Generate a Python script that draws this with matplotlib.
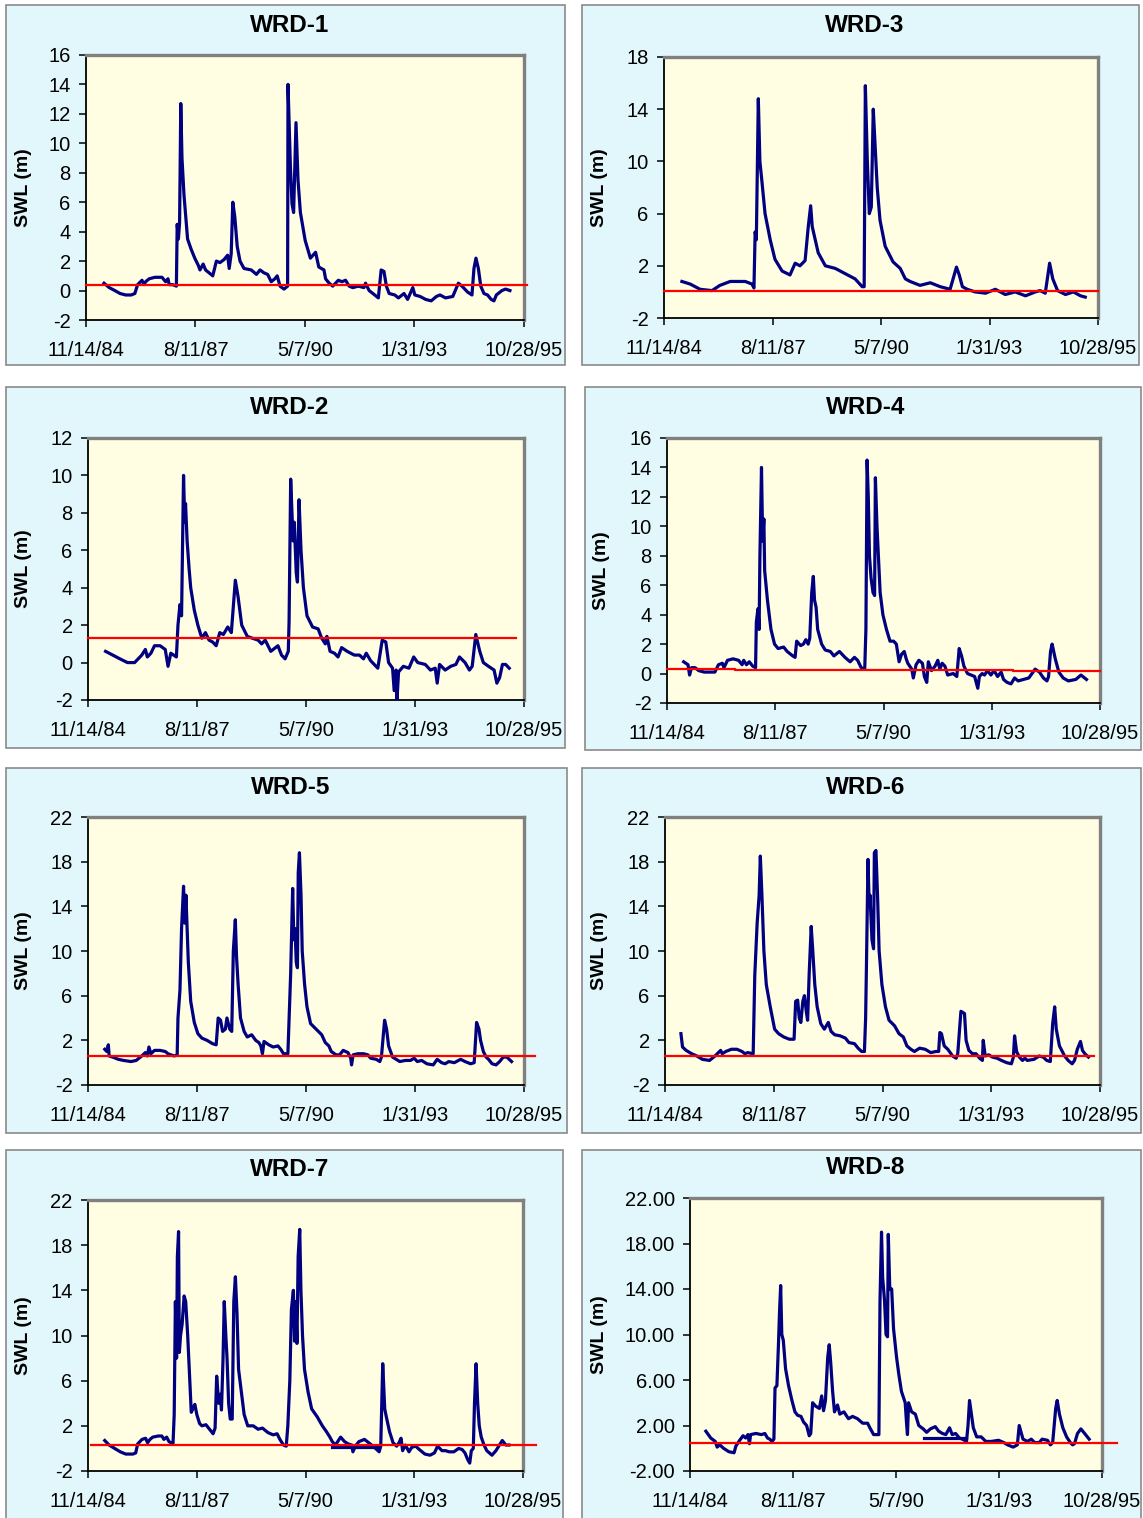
import matplotlib
matplotlib.use("Agg")
from datetime import datetime
from matplotlib import pyplot as plt
from matplotlib.patches import Rectangle
from matplotlib.ticker import FormatStrFormatter

plt.rcParams['font.family'] = ['Liberation Sans', 'DejaVu Sans']

TICK_LABELS = ['11/14/84', '8/11/87', '5/7/90', '1/31/93', '10/28/95']

# time in decimal years, SWL in m
WRD1_T = [1985.32, 1985.45, 1985.59, 1985.72, 1985.86, 1986.00, 1986.09, 1986.16, 1986.27, 1986.32,
          1986.36, 1986.45, 1986.59, 1986.77, 1986.86, 1986.92, 1986.95, 1987.04, 1987.13, 1987.15,
          1987.18, 1987.21, 1987.24, 1987.27, 1987.32, 1987.41, 1987.50, 1987.59, 1987.68, 1987.72,
          1987.80, 1987.86, 1987.95, 1988.04, 1988.13, 1988.22, 1988.32, 1988.41, 1988.45, 1988.50,
          1988.54, 1988.59, 1988.65, 1988.72, 1988.82, 1989.00, 1989.13, 1989.22, 1989.32, 1989.41,
          1989.50, 1989.59, 1989.65, 1989.72, 1989.82, 1989.91, 1989.92, 1989.98, 1990.02, 1990.06,
          1990.12, 1990.17, 1990.23, 1990.35, 1990.48, 1990.61, 1990.69, 1990.82, 1990.86, 1990.95,
          1991.04, 1991.18, 1991.27, 1991.36, 1991.45, 1991.54, 1991.68, 1991.82, 1991.86, 1991.95,
          1992.09, 1992.18, 1992.25, 1992.32, 1992.38, 1992.45, 1992.59, 1992.68, 1992.82, 1992.91,
          1993.04, 1993.09, 1993.22, 1993.36, 1993.50, 1993.63, 1993.72, 1993.86, 1994.04, 1994.18,
          1994.27, 1994.41, 1994.52, 1994.57, 1994.62, 1994.68, 1994.74, 1994.82, 1994.91, 1995.00,
          1995.07, 1995.13, 1995.27, 1995.36, 1995.47]
WRD1_SWL = [0.5, 0.2, 0.0, -0.2, -0.3, -0.3, -0.2, 0.4, 0.7, 0.4,
            0.6, 0.8, 0.9, 0.9, 0.6, 0.8, 0.4, 0.4, 0.3, 4.5,
            3.5, 4.6, 12.7, 9.0, 6.5, 3.5, 2.8, 2.2, 1.7, 1.4,
            1.8, 1.4, 1.2, 1.0, 2.0, 1.9, 2.1, 2.4, 1.5, 2.5,
            6.0, 5.0, 3.0, 2.0, 1.5, 1.4, 1.1, 1.4, 1.2, 1.1,
            0.6, 0.8, 1.0, 0.3, 0.1, 0.3, 14.0, 8.4, 5.9, 5.3,
            11.4, 7.5, 5.3, 3.4, 2.2, 2.6, 1.6, 1.4, 0.8, 0.5,
            0.3, 0.7, 0.6, 0.7, 0.3, 0.2, 0.3, 0.2, 0.5, 0.0,
            -0.3, -0.5, 1.4, 1.3, 0.3, -0.2, -0.3, -0.5, -0.2, -0.6,
            0.2, -0.3, -0.4, -0.6, -0.7, -0.4, -0.3, -0.5, -0.4, 0.5,
            0.3, -0.1, -0.3, 1.5, 2.2, 1.5, 0.3, -0.2, -0.3, -0.6,
            -0.7, -0.3, 0.0, 0.1, 0.0]
WRD1_REF_T = [1984.87, 1995.89]
WRD1_REF_SWL = [0.4, 0.4]

WRD3_T = [1985.32, 1985.53, 1985.78, 1986.08, 1986.28, 1986.54, 1986.92, 1987.09, 1987.14, 1987.17,
          1987.20, 1987.25, 1987.29, 1987.34, 1987.42, 1987.55, 1987.67, 1987.85, 1988.05, 1988.18,
          1988.30, 1988.43, 1988.51, 1988.57, 1988.61, 1988.76, 1988.94, 1989.19, 1989.44, 1989.69,
          1989.87, 1989.92, 1989.95, 1990.00, 1990.05, 1990.10, 1990.15, 1990.20, 1990.25, 1990.32,
          1990.45, 1990.65, 1990.83, 1990.96, 1991.08, 1991.33, 1991.59, 1991.84, 1992.09, 1992.25,
          1992.32, 1992.40, 1992.52, 1992.72, 1992.98, 1993.23, 1993.48, 1993.73, 1993.99, 1994.24,
          1994.36, 1994.49, 1994.60, 1994.68, 1994.80, 1995.00, 1995.20, 1995.38, 1995.50]
WRD3_SWL = [0.8, 0.6, 0.2, 0.1, 0.5, 0.8, 0.8, 0.6, 0.3, 4.6,
            4.0, 14.8, 10.0, 8.5, 6.0, 4.0, 2.5, 1.6, 1.3, 2.2,
            2.0, 2.4, 5.0, 6.6, 5.0, 3.0, 2.0, 1.8, 1.4, 1.0,
            0.4, 0.4, 15.8, 10.0, 6.0, 6.5, 14.0, 11.0, 8.0, 5.5,
            3.5, 2.3, 1.8, 1.0, 0.8, 0.5, 0.7, 0.4, 0.2, 1.9,
            1.3, 0.4, 0.2, 0.0, -0.1, 0.2, -0.2, 0.0, -0.3, 0.0,
            0.1, -0.1, 2.2, 1.0, 0.1, -0.2, 0.0, -0.3, -0.4]
WRD3_REF_T = [1984.87, 1995.82]
WRD3_REF_SWL = [0.1, 0.1]

WRD2_T = [1985.31, 1985.49, 1985.67, 1985.86, 1986.04, 1986.22, 1986.31, 1986.36, 1986.45, 1986.54,
          1986.68, 1986.81, 1986.88, 1986.95, 1987.09, 1987.13, 1987.18, 1987.22, 1987.27, 1987.30,
          1987.32, 1987.36, 1987.41, 1987.45, 1987.54, 1987.63, 1987.73, 1987.82, 1987.91, 1988.00,
          1988.09, 1988.18, 1988.27, 1988.38, 1988.47, 1988.57, 1988.64, 1988.73, 1988.87, 1989.00,
          1989.14, 1989.23, 1989.32, 1989.46, 1989.64, 1989.73, 1989.82, 1989.90, 1989.92, 1989.96,
          1990.02, 1990.05, 1990.10, 1990.13, 1990.17, 1990.22, 1990.28, 1990.37, 1990.51, 1990.65,
          1990.74, 1990.83, 1990.87, 1990.95, 1991.06, 1991.15, 1991.24, 1991.38, 1991.47, 1991.56,
          1991.69, 1991.79, 1991.86, 1991.97, 1992.15, 1992.26, 1992.35, 1992.42, 1992.52, 1992.56,
          1992.61, 1992.63, 1992.67, 1992.79, 1992.93, 1993.05, 1993.15, 1993.34, 1993.47, 1993.59,
          1993.64, 1993.70, 1993.84, 1993.98, 1994.11, 1994.20, 1994.34, 1994.45, 1994.52, 1994.61,
          1994.71, 1994.80, 1994.93, 1995.07, 1995.14, 1995.21, 1995.28, 1995.36, 1995.45]
WRD2_SWL = [0.6, 0.4, 0.2, 0.0, 0.0, 0.4, 0.7, 0.3, 0.5, 0.9,
            0.9, 0.7, -0.2, 0.5, 0.3, 2.0, 3.1, 2.5, 10.0, 7.5,
            8.5, 6.5, 5.0, 4.0, 2.8, 2.0, 1.3, 1.6, 1.2, 1.1,
            0.9, 1.6, 1.5, 1.9, 1.6, 4.4, 3.5, 2.0, 1.4, 1.3,
            1.2, 1.0, 1.2, 0.6, 0.9, 0.4, 0.2, 0.6, 2.2, 9.8,
            6.5, 7.5, 4.8, 4.3, 8.7, 6.0, 4.0, 2.5, 1.9, 1.8,
            1.3, 1.0, 1.4, 0.6, 0.5, 0.3, 0.8, 0.6, 0.5, 0.4,
            0.4, 0.2, 0.5, 0.1, -0.3, 1.2, 1.1, 0.0, -0.3, -1.5,
            -0.4, -2.0, -0.5, -0.2, -0.3, 0.3, 0.0, -0.1, -0.4, -0.3,
            -1.1, -0.1, -0.4, -0.2, -0.1, 0.3, 0.0, -0.4, -0.2, 1.5,
            0.6, 0.0, -0.2, -0.4, -1.1, -0.8, -0.1, -0.1, -0.3]
WRD2_REF_T = [1984.87, 1995.62]
WRD2_REF_SWL = [1.3, 1.3]

WRD4_T = [1985.29, 1985.40, 1985.44, 1985.49, 1985.58, 1985.67, 1985.81, 1986.08, 1986.17, 1986.27,
          1986.31, 1986.40, 1986.54, 1986.68, 1986.77, 1986.81, 1986.88, 1986.95, 1987.04, 1987.11,
          1987.13, 1987.17, 1987.20, 1987.22, 1987.26, 1987.29, 1987.32, 1987.34, 1987.41, 1987.50,
          1987.59, 1987.68, 1987.82, 1987.91, 1988.05, 1988.11, 1988.15, 1988.25, 1988.32, 1988.38,
          1988.44, 1988.48, 1988.53, 1988.57, 1988.60, 1988.64, 1988.68, 1988.78, 1988.87, 1989.00,
          1989.09, 1989.23, 1989.37, 1989.50, 1989.61, 1989.69, 1989.78, 1989.87, 1989.90, 1989.93,
          1989.96, 1989.99, 1990.03, 1990.08, 1990.12, 1990.14, 1990.18, 1990.22, 1990.26, 1990.33,
          1990.42, 1990.51, 1990.60, 1990.67, 1990.74, 1990.80, 1990.87, 1990.92, 1990.96, 1991.06,
          1991.10, 1991.17, 1991.24, 1991.33, 1991.38, 1991.44, 1991.48, 1991.56, 1991.65, 1991.72,
          1991.77, 1991.83, 1991.90, 1991.97, 1992.11, 1992.20, 1992.26, 1992.32, 1992.38, 1992.47,
          1992.56, 1992.65, 1992.73, 1992.77, 1992.84, 1992.90, 1992.97, 1993.06, 1993.14, 1993.23,
          1993.32, 1993.38, 1993.47, 1993.57, 1993.66, 1993.75, 1993.88, 1994.02, 1994.18, 1994.29,
          1994.39, 1994.48, 1994.52, 1994.57, 1994.61, 1994.69, 1994.78, 1994.89, 1995.02, 1995.21,
          1995.34, 1995.48]
WRD4_SWL = [0.8, 0.6, -0.1, 0.4, 0.4, 0.2, 0.1, 0.1, 0.6, 0.7,
            0.4, 0.9, 1.0, 0.9, 0.6, 0.9, 0.6, 0.8, 0.5, 0.4,
            3.5, 4.4, 3.0, 8.0, 14.0, 9.0, 10.5, 7.0, 5.0, 3.0,
            2.0, 1.7, 1.8, 1.5, 1.2, 1.1, 2.2, 1.9, 2.0, 2.3,
            2.0, 2.4, 5.5, 6.6, 5.0, 4.5, 3.0, 2.0, 1.6, 1.5,
            1.2, 1.5, 1.1, 0.8, 1.1, 0.9, 0.4, 0.3, 3.0, 14.5,
            12.0, 8.0, 6.5, 5.5, 5.3, 13.3, 10.0, 7.8, 5.5, 4.0,
            3.0, 2.2, 2.2, 2.0, 0.8, 1.3, 1.5, 1.0, 0.7, 0.3,
            -0.3, 0.6, 0.9, 0.7, -0.2, -0.6, 0.8, 0.2, 0.5, 0.9,
            0.3, 0.7, 0.5, -0.1, 0.0, -0.2, 1.7, 1.2, 0.5, 0.0,
            -0.1, -0.2, -1.0, -0.2, 0.0, -0.1, 0.2, -0.1, 0.2, -0.2,
            0.1, -0.4, -0.6, -0.7, -0.3, -0.5, -0.4, -0.3, 0.3, 0.1,
            -0.3, -0.5, -0.2, 1.5, 2.0, 1.0, 0.1, -0.3, -0.5, -0.4,
            -0.1, -0.4]
WRD4_REF_T = [1984.87, 1986.60, 1986.60, 1993.61, 1993.61, 1995.82]
WRD4_REF_SWL = [0.3, 0.3, 0.22, 0.22, 0.15, 0.15]

WRD5_T = [1985.29, 1985.34, 1985.38, 1985.40, 1985.49, 1985.63, 1985.76, 1985.95, 1986.08, 1986.22,
          1986.31, 1986.36, 1986.40, 1986.45, 1986.54, 1986.68, 1986.81, 1986.88, 1986.95, 1987.04,
          1987.11, 1987.13, 1987.18, 1987.22, 1987.27, 1987.30, 1987.33, 1987.39, 1987.45, 1987.54,
          1987.63, 1987.73, 1987.86, 1988.00, 1988.09, 1988.14, 1988.20, 1988.25, 1988.32, 1988.36,
          1988.43, 1988.48, 1988.52, 1988.57, 1988.60, 1988.64, 1988.70, 1988.79, 1988.87, 1988.98,
          1989.08, 1989.16, 1989.21, 1989.25, 1989.29, 1989.41, 1989.52, 1989.64, 1989.71, 1989.78,
          1989.89, 1989.92, 1989.96, 1990.01, 1990.04, 1990.07, 1990.10, 1990.13, 1990.15, 1990.18,
          1990.22, 1990.25, 1990.31, 1990.37, 1990.46, 1990.60, 1990.74, 1990.83, 1990.92, 1990.98,
          1991.10, 1991.19, 1991.28, 1991.40, 1991.47, 1991.49, 1991.53, 1991.65, 1991.79, 1991.90,
          1991.97, 1992.11, 1992.20, 1992.24, 1992.32, 1992.37, 1992.42, 1992.52, 1992.61, 1992.70,
          1992.84, 1992.97, 1993.06, 1993.14, 1993.25, 1993.38, 1993.54, 1993.64, 1993.75, 1993.84,
          1993.93, 1994.07, 1994.23, 1994.34, 1994.48, 1994.57, 1994.63, 1994.69, 1994.73, 1994.80,
          1994.87, 1994.93, 1995.02, 1995.12, 1995.21, 1995.30, 1995.39, 1995.51]
WRD5_SWL = [1.2, 1.0, 1.6, 0.6, 0.5, 0.3, 0.2, 0.1, 0.2, 0.6,
            0.9, 0.6, 1.4, 0.8, 1.1, 1.1, 1.0, 0.8, 0.7, 0.6,
            0.7, 4.0, 6.5, 12.0, 15.8, 12.5, 15.0, 9.0, 5.5, 3.6,
            2.6, 2.2, 2.0, 1.7, 1.6, 4.0, 3.8, 2.8, 3.0, 4.0,
            3.0, 2.8, 10.0, 12.8, 9.5, 7.0, 4.0, 2.8, 2.3, 2.5,
            2.0, 1.8, 1.5, 0.8, 1.9, 1.6, 1.4, 1.5, 1.2, 0.8,
            0.8, 4.0, 8.0, 15.6, 11.0, 12.0, 9.0, 8.5, 17.0, 18.8,
            15.0, 10.0, 7.0, 5.0, 3.5, 3.0, 2.5, 1.8, 1.5, 1.0,
            0.7, 0.7, 1.1, 0.9, 0.4, -0.2, 0.7, 0.8, 0.8, 0.7,
            0.4, 0.3, 0.1, 0.5, 3.8, 3.0, 1.5, 0.5, 0.3, 0.1,
            0.2, 0.2, 0.4, 0.1, 0.2, -0.1, -0.2, 0.3, 0.0, -0.1,
            0.1, 0.0, 0.3, 0.1, -0.1, 0.0, 3.6, 3.0, 2.0, 1.0,
            0.5, 0.3, -0.1, -0.2, 0.1, 0.5, 0.5, 0.1]
WRD5_REF_T = [1984.87, 1996.09]
WRD5_REF_SWL = [0.6, 0.6]

WRD6_T = [1985.27, 1985.31, 1985.40, 1985.54, 1985.67, 1985.81, 1985.99, 1986.13, 1986.27, 1986.31,
          1986.40, 1986.54, 1986.68, 1986.81, 1986.88, 1986.95, 1987.09, 1987.13, 1987.19, 1987.24,
          1987.27, 1987.31, 1987.36, 1987.42, 1987.52, 1987.63, 1987.73, 1987.86, 1988.00, 1988.12,
          1988.16, 1988.21, 1988.25, 1988.29, 1988.34, 1988.38, 1988.43, 1988.46, 1988.50, 1988.55,
          1988.59, 1988.64, 1988.70, 1988.79, 1988.88, 1988.98, 1989.05, 1989.14, 1989.28, 1989.41,
          1989.50, 1989.64, 1989.73, 1989.82, 1989.89, 1989.92, 1989.94, 1989.98, 1990.01, 1990.03,
          1990.08, 1990.12, 1990.14, 1990.18, 1990.22, 1990.26, 1990.33, 1990.42, 1990.51, 1990.65,
          1990.76, 1990.87, 1990.96, 1991.06, 1991.15, 1991.28, 1991.42, 1991.56, 1991.69, 1991.76,
          1991.79, 1991.83, 1991.90, 1991.99, 1992.11, 1992.20, 1992.24, 1992.32, 1992.41, 1992.45,
          1992.52, 1992.61, 1992.70, 1992.79, 1992.86, 1992.88, 1992.93, 1993.02, 1993.11, 1993.23,
          1993.34, 1993.47, 1993.59, 1993.64, 1993.67, 1993.72, 1993.79, 1993.87, 1993.93, 1993.99,
          1994.16, 1994.29, 1994.39, 1994.48, 1994.57, 1994.63, 1994.68, 1994.72, 1994.80, 1994.93,
          1995.02, 1995.12, 1995.18, 1995.25, 1995.33, 1995.38, 1995.44, 1995.53]
WRD6_SWL = [2.6, 1.4, 1.1, 0.8, 0.6, 0.3, 0.2, 0.6, 1.1, 0.8,
            1.0, 1.2, 1.2, 1.0, 0.8, 0.9, 0.8, 7.8, 12.5, 15.0,
            18.5, 15.0, 10.0, 7.0, 5.0, 3.0, 2.6, 2.3, 2.1, 2.1,
            5.5, 5.6, 4.0, 3.6, 5.5, 6.0, 4.5, 3.8, 8.0, 12.2,
            10.0, 7.0, 5.0, 3.5, 3.0, 3.6, 2.8, 2.5, 2.4, 2.2,
            1.8, 1.7, 1.3, 1.0, 1.0, 4.0, 8.5, 18.2, 14.0, 15.0,
            11.0, 10.2, 18.8, 19.0, 15.0, 10.0, 7.0, 5.0, 3.8, 3.3,
            2.6, 2.3, 1.5, 1.2, 1.0, 1.3, 1.2, 0.9, 1.0, 1.0,
            2.7, 2.6, 1.5, 1.2, 0.6, 0.4, 0.8, 4.6, 4.4, 2.0,
            1.1, 0.8, 0.8, 0.4, 0.2, 2.0, 0.6, 0.7, 0.5, 0.4,
            0.2, 0.0, -0.1, 0.5, 2.4, 1.0, 0.5, 0.2, 0.4, 0.2,
            0.3, 0.6, 0.5, 0.2, 0.1, 3.5, 5.0, 3.0, 1.5, 0.6,
            0.2, -0.1, 0.2, 1.2, 1.9, 1.1, 0.8, 0.5]
WRD6_REF_T = [1984.87, 1995.68]
WRD6_REF_SWL = [0.6, 0.6]

WRD7_T = [1985.29, 1985.40, 1985.54, 1985.68, 1985.82, 1986.00, 1986.07, 1986.12, 1986.23, 1986.32,
          1986.37, 1986.43, 1986.50, 1986.64, 1986.73, 1986.78, 1986.85, 1986.91, 1986.96, 1987.01,
          1987.04, 1987.07, 1987.10, 1987.12, 1987.15, 1987.17, 1987.20, 1987.24, 1987.29, 1987.33,
          1987.38, 1987.42, 1987.47, 1987.51, 1987.56, 1987.61, 1987.68, 1987.74, 1987.84, 1987.93,
          1988.02, 1988.07, 1988.11, 1988.16, 1988.20, 1988.23, 1988.27, 1988.30, 1988.34, 1988.37,
          1988.41, 1988.45, 1988.50, 1988.54, 1988.58, 1988.62, 1988.66, 1988.73, 1988.80, 1988.89,
          1989.03, 1989.15, 1989.26, 1989.40, 1989.53, 1989.63, 1989.70, 1989.79, 1989.86, 1989.90,
          1989.95, 1989.99, 1990.04, 1990.07, 1990.10, 1990.13, 1990.16, 1990.20, 1990.23, 1990.27,
          1990.32, 1990.41, 1990.50, 1990.64, 1990.77, 1990.87, 1990.96, 1991.02, 1991.10, 1991.23,
          1991.33, 1991.42, 1991.51, 1991.54, 1991.60, 1991.69, 1991.83, 1991.94, 1992.01, 1992.11,
          1992.20, 1992.24, 1992.29, 1992.34, 1992.38, 1992.46, 1992.55, 1992.64, 1992.70, 1992.75,
          1992.79, 1992.86, 1992.95, 1993.02, 1993.12, 1993.21, 1993.35, 1993.48, 1993.59, 1993.67,
          1993.78, 1993.87, 1993.96, 1994.08, 1994.20, 1994.29, 1994.36, 1994.43, 1994.48, 1994.52,
          1994.57, 1994.60, 1994.64, 1994.68, 1994.72, 1994.77, 1994.84, 1994.91, 1995.04, 1995.14,
          1995.23, 1995.30, 1995.39, 1995.47]
WRD7_SWL = [0.7, 0.3, 0.0, -0.3, -0.5, -0.5, -0.4, 0.4, 0.8, 0.9,
            0.5, 0.8, 1.0, 1.1, 1.1, 0.8, 1.0, 0.6, 0.5, 0.4,
            3.0, 13.0, 8.0, 17.0, 19.2, 8.5, 10.0, 11.0, 13.5, 13.0,
            10.0, 7.0, 3.2, 3.5, 3.9, 3.0, 2.2, 2.0, 2.1, 1.7,
            1.3, 1.8, 6.4, 4.0, 4.8, 3.4, 8.0, 13.0, 10.0, 8.0,
            4.0, 2.6, 2.6, 13.0, 15.2, 12.0, 7.0, 5.0, 3.0, 2.0,
            2.0, 1.7, 1.8, 1.4, 1.2, 1.3, 0.8, 0.3, 0.2, 2.0,
            6.0, 12.3, 14.0, 9.5, 13.0, 9.3, 17.0, 19.4, 14.0, 10.0,
            7.0, 5.0, 3.5, 2.8, 2.0, 1.5, 1.0, 0.6, 0.3, 1.0,
            0.6, 0.4, 0.3, -0.3, 0.2, 0.6, 0.8, 0.5, 0.3, 0.0,
            -0.3, 0.2, 7.5, 3.5, 2.8, 1.5, 0.5, 0.2, 0.5, 0.9,
            -0.2, 0.3, -0.3, 0.1, 0.2, -0.1, -0.5, -0.6, -0.4, 0.2,
            -0.2, -0.2, -0.3, -0.3, 0.0, -0.1, -0.4, -1.0, -1.3, -0.2,
            0.0, 4.0, 7.5, 4.0, 2.0, 1.0, 0.3, -0.2, -0.6, -0.2,
            0.3, 0.7, 0.3, 0.3]
WRD7_LOW_T = [1991.02, 1992.20]
WRD7_LOW_SWL = [0.1, 0.1]
WRD7_REF_T = [1984.94, 1996.16]
WRD7_REF_SWL = [0.3, 0.3]

WRD8_T = [1985.29, 1985.42, 1985.54, 1985.59, 1985.66, 1985.76, 1985.90, 1986.04, 1986.09, 1986.19,
          1986.28, 1986.35, 1986.41, 1986.45, 1986.48, 1986.62, 1986.77, 1986.86, 1986.93, 1986.99,
          1987.05, 1987.10, 1987.13, 1987.18, 1987.22, 1987.25, 1987.28, 1987.31, 1987.35, 1987.41,
          1987.49, 1987.58, 1987.66, 1987.73, 1987.82, 1987.89, 1987.97, 1988.04, 1988.08, 1988.13,
          1988.21, 1988.31, 1988.37, 1988.42, 1988.47, 1988.53, 1988.57, 1988.61, 1988.66, 1988.71,
          1988.79, 1988.85, 1988.96, 1989.08, 1989.19, 1989.32, 1989.46, 1989.59, 1989.65, 1989.75,
          1989.89, 1989.92, 1989.96, 1989.99, 1990.04, 1990.08, 1990.12, 1990.14, 1990.18, 1990.23,
          1990.28, 1990.36, 1990.42, 1990.49, 1990.59, 1990.63, 1990.65, 1990.68, 1990.76, 1990.86,
          1990.95, 1991.07, 1991.16, 1991.26, 1991.39, 1991.48, 1991.58, 1991.67, 1991.77, 1991.84,
          1991.93, 1992.03, 1992.11, 1992.22, 1992.26, 1992.30, 1992.35, 1992.40, 1992.49, 1992.61,
          1992.73, 1992.88, 1993.07, 1993.21, 1993.31, 1993.46, 1993.57, 1993.62, 1993.67, 1993.72,
          1993.84, 1993.94, 1994.03, 1994.15, 1994.23, 1994.37, 1994.45, 1994.51, 1994.59, 1994.63,
          1994.69, 1994.78, 1994.88, 1994.98, 1995.04, 1995.09, 1995.17, 1995.26, 1995.36, 1995.48]
WRD8_SWL = [1.5, 0.9, 0.6, 0.1, 0.3, 0.0, -0.3, -0.4, 0.2, 0.7,
            1.1, 0.9, 1.2, 0.4, 1.2, 1.3, 1.2, 1.3, 0.9, 0.8,
            0.6, 0.8, 5.3, 5.5, 9.0, 12.0, 14.3, 10.0, 9.5, 7.0,
            5.5, 4.2, 3.2, 2.9, 2.8, 2.3, 2.0, 1.1, 1.3, 4.0,
            3.7, 3.5, 4.6, 3.3, 4.2, 8.0, 9.1, 7.5, 5.0, 3.2,
            3.8, 3.0, 3.2, 2.6, 2.8, 2.6, 2.2, 2.2, 1.8, 1.2,
            1.2, 13.0, 19.0, 15.0, 13.0, 10.0, 9.8, 18.8, 14.0, 14.0,
            10.5, 8.0, 6.5, 5.0, 4.0, 2.0, 1.2, 4.0, 3.2, 3.0,
            2.0, 1.7, 1.4, 1.7, 1.9, 1.5, 1.3, 1.2, 1.8, 1.2,
            1.3, 0.9, 0.8, 0.6, 2.0, 4.2, 3.0, 1.8, 1.0, 1.0,
            0.6, 0.6, 0.7, 0.5, 0.3, 0.1, 0.3, 2.0, 1.4, 0.8,
            0.6, 0.8, 0.5, 0.5, 0.8, 0.7, 0.3, 0.5, 3.5, 4.2,
            3.0, 1.8, 1.0, 0.5, 0.3, 0.4, 1.3, 1.7, 1.3, 0.8]
WRD8_LOW_T = [1991.10, 1992.20]
WRD8_LOW_SWL = [0.9, 0.9]
WRD8_REF_T = [1984.87, 1996.23]
WRD8_REF_SWL = [0.5, 0.5]

W, H = 1143, 1518
NAVY = '#000080'
PANEL_BG = '#e2f7fb'
PLOT_BG = '#fffde2'


def to_date(y):
    year = int(y)
    start = datetime(year, 1, 1)
    end = datetime(year + 1, 1, 1)
    return start + (end - start) * (y - year)


def fig_rect(x0, y0, x1, y1):
    return [x0 / W, 1 - y1 / H, (x1 - x0) / W, (y1 - y0) / H]


def draw_panel(fig, name, t, swl, ref_t, ref_swl, ylim, ystep, yfmt,
               box, area, title_xy, ylab_x, low=None):
    bx0, by0, bx1, by1 = box
    fig.add_artist(Rectangle((bx0 / W, 1 - by1 / H), (bx1 - bx0) / W, (by1 - by0) / H,
                             transform=fig.transFigure, facecolor=PANEL_BG,
                             edgecolor='#8a8a8a', lw=1.2, zorder=0))
    ax = fig.add_axes(fig_rect(*area))
    ax.set_facecolor(PLOT_BG)

    ax.plot([to_date(v) for v in t], swl, color=NAVY, lw=2.3, zorder=3)
    if low is not None:
        ax.plot([to_date(v) for v in low[0]], low[1], color=NAVY, lw=2.3, zorder=3)
    ax.plot([to_date(v) for v in ref_t], ref_swl, color='#ff0000', lw=1.6,
            clip_on=False, zorder=4)

    ticks = [datetime.strptime(s, '%m/%d/%y') for s in TICK_LABELS]
    ax.set_xlim(ticks[0], ticks[-1])
    ax.set_xticks(ticks)
    ax.set_xticklabels(TICK_LABELS)
    ax.set_ylim(*ylim)
    ax.set_yticks(list(range(ylim[0], ylim[1] + 1, ystep)))
    ax.yaxis.set_major_formatter(FormatStrFormatter(yfmt))

    for side in ['left', 'bottom']:
        ax.spines[side].set_color('black')
        ax.spines[side].set_linewidth(1.3)
    for side in ['top', 'right']:
        ax.spines[side].set_color('#808080')
        ax.spines[side].set_linewidth(2.4)
    ax.tick_params(axis='both', direction='out', length=5, width=1.1, labelsize=14.5)
    ax.tick_params(axis='x', pad=10)
    ax.tick_params(axis='y', pad=6)

    fig.text(title_xy[0] / W, 1 - title_xy[1] / H, name, ha='center', va='center',
             fontsize=17.5, fontweight='bold')
    fig.text(ylab_x / W, 1 - (area[1] + area[3]) / 2 / H, 'SWL (m)', rotation=90,
             ha='center', va='center', fontsize=14, fontweight='bold')
    return ax


fig = plt.figure(figsize=(W / 100, H / 100), dpi=100)

draw_panel(fig, 'WRD-1', WRD1_T, WRD1_SWL, WRD1_REF_T, WRD1_REF_SWL, (-2, 16), 2, '%d',
           (6, 5, 565, 365), (86, 55, 524, 320), (290, 25), 23)
draw_panel(fig, 'WRD-3', WRD3_T, WRD3_SWL, WRD3_REF_T, WRD3_REF_SWL, (-2, 18), 4, '%d',
           (582, 5, 1139, 365), (664, 57, 1098, 318), (865, 25), 600)
draw_panel(fig, 'WRD-2', WRD2_T, WRD2_SWL, WRD2_REF_T, WRD2_REF_SWL, (-2, 12), 2, '%d',
           (6, 387, 565, 748), (88, 438, 524, 700), (290, 407), 23)
draw_panel(fig, 'WRD-4', WRD4_T, WRD4_SWL, WRD4_REF_T, WRD4_REF_SWL, (-2, 16), 2, '%d',
           (585, 387, 1141, 750), (667, 438, 1100, 703), (866, 407), 601)
draw_panel(fig, 'WRD-5', WRD5_T, WRD5_SWL, WRD5_REF_T, WRD5_REF_SWL, (-2, 22), 4, '%d',
           (6, 768, 567, 1133), (88, 817, 524, 1085), (291, 788), 23)
draw_panel(fig, 'WRD-6', WRD6_T, WRD6_SWL, WRD6_REF_T, WRD6_REF_SWL, (-2, 22), 4, '%d',
           (582, 768, 1141, 1133), (665, 817, 1100, 1085), (866, 788), 600)
draw_panel(fig, 'WRD-7', WRD7_T, WRD7_SWL, WRD7_REF_T, WRD7_REF_SWL, (-2, 22), 4, '%d',
           (6, 1150, 563, 1520), (88, 1200, 523, 1471), (290, 1170), 23,
           low=(WRD7_LOW_T, WRD7_LOW_SWL))
draw_panel(fig, 'WRD-8', WRD8_T, WRD8_SWL, WRD8_REF_T, WRD8_REF_SWL, (-2, 22), 4, '%.2f',
           (582, 1150, 1141, 1520), (690, 1198, 1102, 1471), (866, 1168), 600,
           low=(WRD8_LOW_T, WRD8_LOW_SWL))

fig.savefig('out.png', dpi=100)
